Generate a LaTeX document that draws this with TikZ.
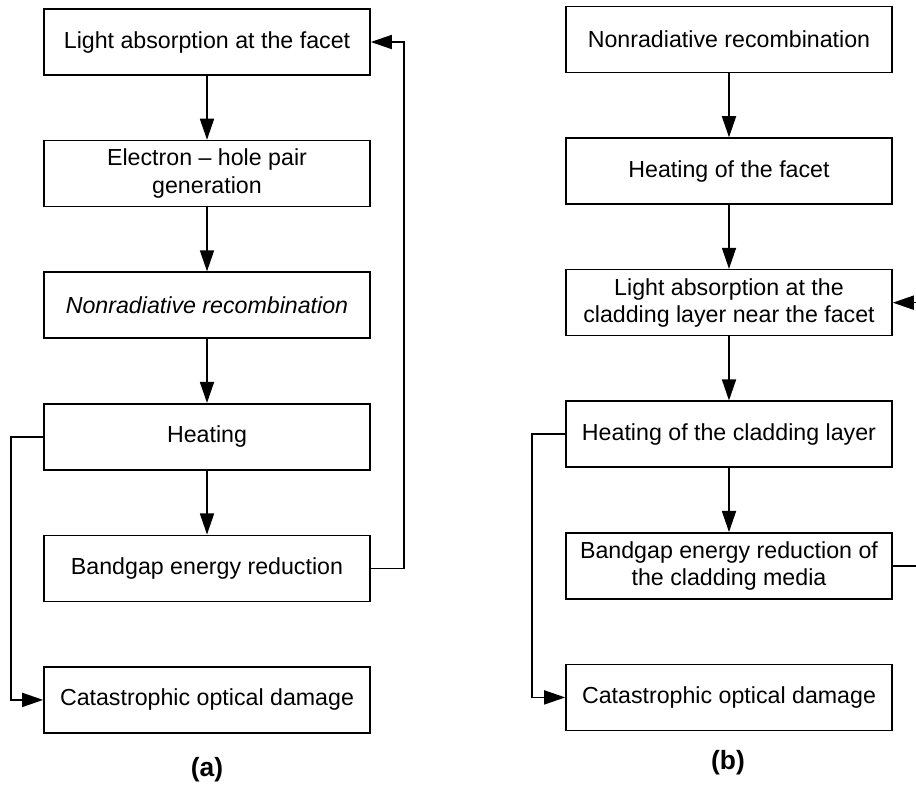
\documentclass[tikz,border=0pt]{standalone}
\usepackage{fontspec}
\setmainfont{Liberation Sans}
\usetikzlibrary{positioning,arrows.meta}

\tikzset{
   stage/.style={draw, line width=0.9pt, minimum width=6.52cm, minimum height=1.32cm,
      align=center, inner sep=2pt, font=\fontsize{13.2}{15.5}\selectfont},
   flow/.style={-{Triangle[length=12pt,width=8pt]}, line width=0.9pt},
   tag/.style={font=\bfseries\fontsize{15}{17}\selectfont},
}

\begin{document}
\begin{tikzpicture}[node distance=1.28cm]
   \useasboundingbox (0,0) rectangle (18.32,-15.72);

   % (a) facet
   \node[stage] (a1) at (4.14,-0.84) {Light absorption at the facet};
   \node[stage, below=of a1] (a2) {Electron -- hole pair\\generation};
   \node[stage, below=of a2] (a3) {\itshape Nonradiative recombination};
   \node[stage, below=of a3] (a4) {Heating};
   \node[stage, below=of a4] (a5) {Bandgap energy reduction};
   \node[stage, below=of a5] (a6) {Catastrophic optical damage};
   \node[tag] (ta) at (4.14,-15.4) {(a)};

   \draw[flow] (a1) -- (a2);
   \draw[flow] (a2) -- (a3);
   \draw[flow] (a3) -- (a4);
   \draw[flow] (a4) -- (a5);
   \draw[flow] (a4.west) -- ++(-0.64,0) |- (a6.west);
   \draw[flow] (a5.east) -- ++(0.66,0) |- (a1.east);

   % (b) cladding layer
   \node[stage] (b1) at (14.58,-0.79) {Nonradiative recombination};
   \node[stage, below=of b1] (b2) {Heating of the facet};
   \node[stage, below=of b2] (b3) {Light absorption at the\\cladding layer near the facet};
   \node[stage, below=of b3] (b4) {Heating of the cladding layer};
   \node[stage, below=of b4] (b5) {Bandgap energy reduction of\\the cladding media};
   \node[stage, below=of b5] (b6) {Catastrophic optical damage};
   \node[tag] (tb) at (14.56,-15.26) {(b)};

   \draw[flow] (b1) -- (b2);
   \draw[flow] (b2) -- (b3);
   \draw[flow] (b3) -- (b4);
   \draw[flow] (b4) -- (b5);
   \draw[flow] (b4.west) -- ++(-0.66,0) |- (b6.west);
   \draw[flow] (b5.east) -- ++(0.66,0) |- (b3.east);
\end{tikzpicture}
\end{document}
